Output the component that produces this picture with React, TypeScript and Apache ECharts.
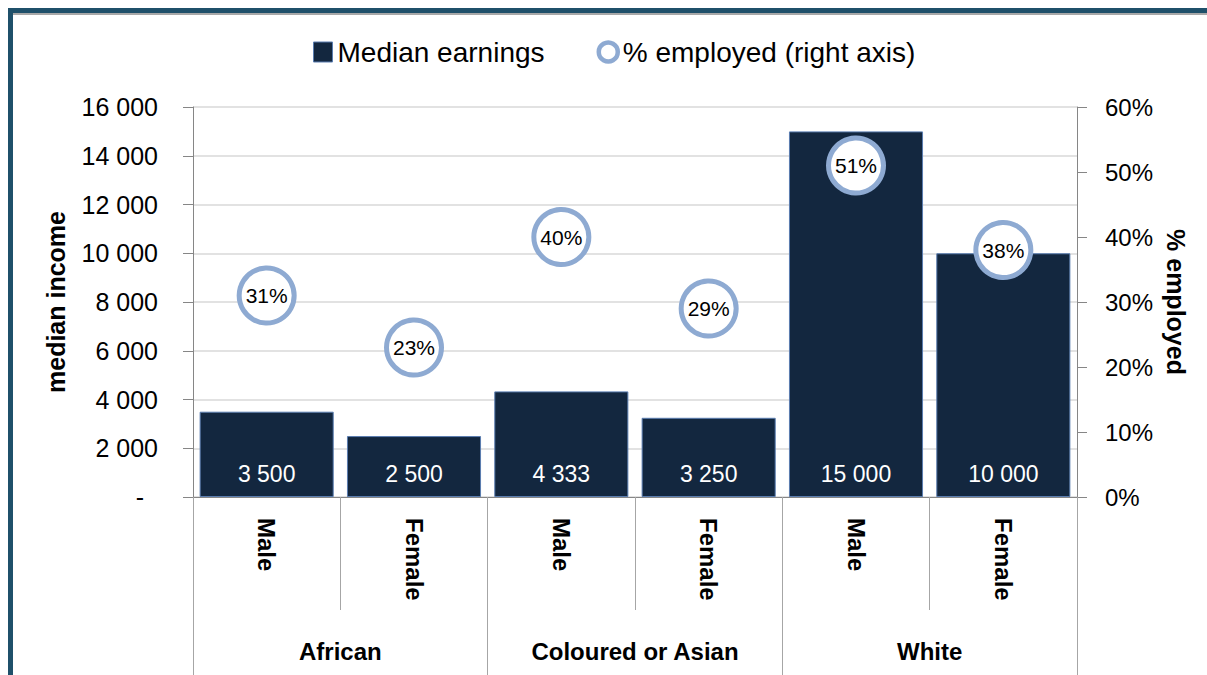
import React, { useEffect, useRef } from "react";
import * as echarts from "echarts";

const categories = ["Male", "Female", "Male", "Female", "Male", "Female"];
const groups = ["African", "Coloured or Asian", "White"];
const medianEarnings = [3500, 2500, 4333, 3250, 15000, 10000];
const pctEmployed = [31, 23, 40, 29, 51, 38];
const leftTicks = { min: 0, max: 16000, interval: 2000 };
const rightTicks = { min: 0, max: 60, interval: 10 };

const FONT = "'Liberation Sans', Arial, sans-serif";
const fmtThousands = (v: number) =>
  String(Math.round(v)).replace(/\B(?=(\d{3})+(?!\d))/g, " ");

export default function App() {
  const ref = useRef<HTMLDivElement>(null);
  useEffect(() => {
    if (!ref.current) return;
    const chart = echarts.init(ref.current, null, { renderer: "svg" });
    chart.setOption({
      animation: false,
      backgroundColor: "#ffffff",
      textStyle: { fontFamily: FONT },
      graphic: [
        {
          type: "line",
          shape: { x1: 13, y1: 14, x2: 1207, y2: 14 },
          style: { stroke: "#a8a8a8", lineWidth: 2 },
          z: 100,
        },
        {
          type: "rect",
          shape: { x: 10.5, y: 10.5, width: 1400, height: 900 },
          style: { fill: "none", stroke: "#1f506a", lineWidth: 5 },
          z: 101,
        },
      ],
      legend: {
        left: 308,
        top: 33,
        itemWidth: 19,
        itemHeight: 20,
        itemGap: 52,
        textStyle: { fontSize: 28, color: "#000", fontFamily: FONT, padding: [0, 0, 0, 0] },
        data: [
          {
            name: "Median earnings",
            icon: "rect",
            itemStyle: { color: "#13273f", borderColor: "#5a7db0", borderWidth: 1 },
          },
          {
            name: "% employed (right axis)",
            icon: "circle",
            itemStyle: { color: "#ffffff", borderColor: "#8eaad2", borderWidth: 4.5 },
          },
        ],
      },
      grid: {
        left: 193,
        right: 130,
        top: 107,
        bottom: 178,
        containLabel: false,
        outerBoundsMode: "none",
      },
      xAxis: [
        {
          type: "category",
          position: "bottom",
          data: categories,
          boundaryGap: true,
          axisLine: { show: true, lineStyle: { color: "#868686", width: 1 } },
          axisTick: {
            show: true,
            interval: 0,
            length: 113,
            lineStyle: { color: "#a6a6a6", width: 1 },
          },
          axisLabel: {
            interval: 0,
            rotate: -90,
            margin: 21,
            fontSize: 24,
            fontWeight: "bold",
            color: "#000",
            fontFamily: FONT,
          },
        },
        {
          type: "category",
          position: "bottom",
          offset: 0,
          data: groups,
          boundaryGap: true,
          axisLine: { show: false },
          axisTick: {
            show: true,
            interval: 0,
            length: 180,
            lineStyle: { color: "#a6a6a6", width: 1 },
          },
          axisLabel: {
            interval: 0,
            margin: 142,
            fontSize: 24,
            fontWeight: "bold",
            color: "#000",
            fontFamily: FONT,
          },
        },
      ],
      yAxis: [
        {
          type: "value",
          min: leftTicks.min,
          max: leftTicks.max,
          interval: leftTicks.interval,
          name: "median income",
          nameLocation: "middle",
          nameGap: 125,
          nameTextStyle: { fontSize: 25, fontWeight: "bold", color: "#000", fontFamily: FONT },
          axisLine: { show: true, lineStyle: { color: "#868686", width: 1 } },
          axisTick: { show: true, length: 10, lineStyle: { color: "#868686" } },
          splitLine: { show: true, lineStyle: { color: "#d9d9d9", width: 1.5 } },
          axisLabel: {
            margin: 35,
            fontSize: 25,
            color: "#000",
            fontFamily: FONT,
            formatter: (v: number) => (v === 0 ? "{z|-}" : fmtThousands(v)),
            rich: { z: { fontSize: 25, color: "#000", padding: [0, 14, 0, 0] } },
          },
        },
        {
          type: "value",
          position: "right",
          min: rightTicks.min,
          max: rightTicks.max,
          interval: rightTicks.interval,
          name: "% employed",
          nameLocation: "middle",
          nameRotate: -90,
          nameGap: 86,
          nameTextStyle: { fontSize: 25, fontWeight: "bold", color: "#000", fontFamily: FONT },
          axisLine: { show: true, lineStyle: { color: "#868686", width: 1 } },
          axisTick: { show: true, length: 10, lineStyle: { color: "#868686" } },
          splitLine: { show: false },
          axisLabel: {
            margin: 28,
            fontSize: 24,
            color: "#000",
            fontFamily: FONT,
            formatter: (v: number) => `${v}%`,
          },
        },
      ],
      series: [
        {
          name: "Median earnings",
          type: "bar",
          xAxisIndex: 0,
          yAxisIndex: 0,
          data: medianEarnings,
          barCategoryGap: "9%",
          itemStyle: { color: "#13273f", borderColor: "#5a7db0", borderWidth: 1 },
          label: {
            show: true,
            position: "insideBottom",
            distance: 12,
            color: "#ffffff",
            fontSize: 23,
            fontFamily: FONT,
            formatter: (p: any) => fmtThousands(p.value),
          },
          z: 2,
        },
        {
          name: "% employed (right axis)",
          type: "scatter",
          xAxisIndex: 0,
          yAxisIndex: 1,
          data: pctEmployed,
          symbol: "circle",
          symbolSize: 55,
          itemStyle: { color: "#ffffff", borderColor: "#8eaad2", borderWidth: 5, opacity: 1 },
          label: {
            show: true,
            position: "inside",
            color: "#000",
            fontSize: 21,
            fontFamily: FONT,
            formatter: (p: any) => `${p.value}%`,
          },
          z: 5,
        },
      ],
    });
    return () => chart.dispose();
  }, []);
  return (
    <div
      ref={ref}
      style={{ position: "absolute", left: 0, top: 0, width: 1207, height: 675 }}
    />
  );
}
